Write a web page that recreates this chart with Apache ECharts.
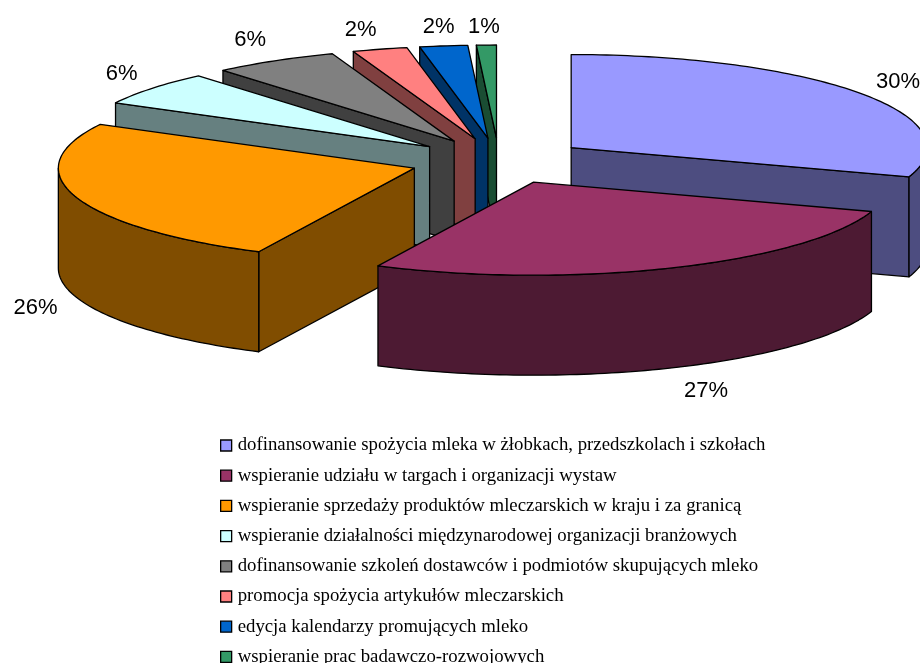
<!DOCTYPE html>
<html>
<head>
<meta charset="utf-8">
<style>
  html, body { margin: 0; padding: 0; background: #fff; }
  #chart { width: 920px; height: 663px; overflow: hidden; }
</style>
<script src="https://cdn.jsdelivr.net/npm/echarts@6/dist/echarts.min.js"></script>
</head>
<body>
<div id="chart"></div>
<script>
const categories = [
  'dofinansowanie spożycia mleka w żłobkach, przedszkolach i szkołach',
  'wspieranie udziału w targach i organizacji wystaw',
  'wspieranie sprzedaży produktów mleczarskich w kraju i za granicą',
  'wspieranie działalności międzynarodowej organizacji branżowych',
  'dofinansowanie szkoleń dostawców i podmiotów skupujących mleko',
  'promocja spożycia artykułów mleczarskich',
  'edycja kalendarzy promujących mleko',
  'wspieranie prac badawczo-rozwojowych'
]
const shares = [30.1, 27.1, 25.6, 5.95, 5.69, 2.49, 2.17, 0.9]
const topColors = ['#9999ff', '#993366', '#ff9900', '#ccffff', '#808080', '#ff8080', '#0066cc', '#339966']
const sideColors = ['#4d4d80', '#4d1a33', '#804d00', '#668080', '#404040', '#804040', '#003366', '#1a4d33']

// pie geometry in pixels
const center = [499, 161]
const radiusX = 356
const radiusY = 93
const depth = 100
const explodeX = 89
const explodeY = 23
// small per-slice shift of the percent labels, [dx, dy]
const labelNudge = [[-8, 2], [12, 2], [14, 4], [14, 0], [4, -1], [-4, 3], [2, 4], [-1, 5]]

const total = shares.reduce((a, b) => a + b, 0)
const toRad = share => share / total * Math.PI * 2

const arcPoints = (ox, oy, from, to) => {
  const steps = Math.max(2, Math.ceil((to - from) / 0.02))
  const pts = []
  for (let i = 0; i <= steps; i++) {
    const a = from + (to - from) * i / steps
    pts.push([ox + radiusX * Math.sin(a), oy - radiusY * Math.cos(a)])
  }
  return pts
}

const lowered = pts => pts.map(p => [p[0], p[1] + depth]).reverse()

const renderSlice = index => () => {
  const from = toRad(shares.slice(0, index).reduce((a, b) => a + b, 0))
  const to = from + toRad(shares[index])
  const mid = (from + to) / 2
  const ox = center[0] + explodeX * Math.sin(mid)
  const oy = center[1] - explodeY * Math.cos(mid)
  const apex = [ox, oy]
  const arc = arcPoints(ox, oy, from, to)
  const line = { stroke: '#000', lineWidth: 1.3, lineJoin: 'round' }
  const wall = pts => ({
    type: 'polygon',
    shape: { points: pts.concat(lowered(pts)) },
    style: { fill: sideColors[index], ...line }
  })

  // a cut face only shows when it turns towards the viewer
  const children = []
  if (Math.sin(from) < -1e-6) children.push(wall([apex, arc[0]]))
  if (Math.sin(to) > 1e-6) children.push(wall([apex, arc[arc.length - 1]]))
  // same for the rim, only its front half
  const rimFrom = Math.max(from, Math.PI / 2)
  const rimTo = Math.min(to, Math.PI * 1.5)
  if (rimTo > rimFrom) children.push(wall(arcPoints(ox, oy, rimFrom, rimTo)))
  children.push({
    type: 'polygon',
    shape: { points: [apex].concat(arc) },
    style: { fill: topColors[index], ...line }
  })
  children.push({
    type: 'text',
    style: {
      text: Math.round(shares[index]) + '%',
      x: ox + radiusX * 1.16 * Math.sin(mid) + labelNudge[index][0],
      y: oy - radiusY * 1.25 * Math.cos(mid) + (Math.cos(mid) < 0 ? depth : 0) + labelNudge[index][1],
      align: 'center',
      verticalAlign: 'middle',
      fill: '#000',
      font: '22px "Liberation Sans", Arial, sans-serif'
    }
  })
  // slices further down the picture sit in front of the ones above
  children.forEach(c => { c.z2 = Math.round(oy * 100) })
  return { type: 'group', children }
}

const chart = echarts.init(document.getElementById('chart'))
chart.setOption({
  animation: false,
  backgroundColor: '#fff',
  legend: {
    orient: 'vertical',
    left: 215,
    top: 431,
    height: 260,
    icon: 'rect',
    itemWidth: 11,
    itemHeight: 11,
    itemGap: 11.2,
    selectedMode: false,
    data: categories,
    itemStyle: { borderColor: '#000', borderWidth: 1.3 },
    textStyle: { fontFamily: '"Liberation Serif", "Times New Roman", serif', fontSize: 18.8, color: '#000', padding: [0, 0, 0, 1] }
  },
  series: categories.map((name, i) => ({
    name,
    type: 'custom',
    coordinateSystem: 'none',
    silent: true,
    clip: false,
    itemStyle: { color: topColors[i] },
    data: [shares[i]],
    renderItem: renderSlice(i)
  }))
})
window.addEventListener('resize', () => chart.resize())
</script>
</body>
</html>
